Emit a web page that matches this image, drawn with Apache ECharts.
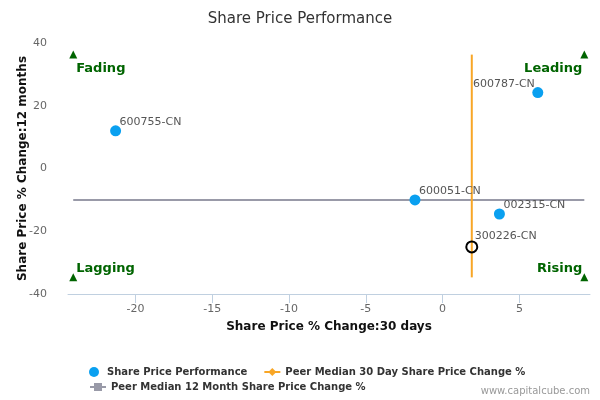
<!DOCTYPE html>
<html>
<head>
<meta charset="utf-8">
<script src="https://cdn.jsdelivr.net/npm/echarts@6/dist/echarts.min.js"></script>
<style>html,body{margin:0;padding:0;background:#fff}#c{width:600px;height:400px}</style>
</head>
<body>
<div id="c"></div>
<script>
// ---- data ----
const companies = ['600755-CN', '600787-CN', '600051-CN', '002315-CN', '300226-CN'];
const change30d = [-21.3, 6.2, -1.8, 3.7, 1.9];
const change12m = [12.0, 24.2, -10.0, -14.5, -25.0];
const peerMedian30d = 1.9;
const peerMedian12m = -10.0;
const quadrantNames = ['Fading', 'Leading', 'Lagging', 'Rising'];
const quadrantX = [-24.06, 9.23, -24.06, 9.23];
const quadrantY = [36.3, 36.3, -34.7, -34.7];
const xTicks = [-20, -15, -10, -5, 0, 5];
const yTicks = [-40, -20, 0, 20, 40];
const xRange = [-24.4, 9.6];
const yRange = [-40, 40];

const FONT = 'DejaVu Sans';
const highlight = '300226-CN';

const pointData = companies.map((n, i) => {
  const item = { name: n, value: [change30d[i], change12m[i]] };
  if (n === highlight) {
    item.itemStyle = { color: 'rgba(0,0,0,0)', borderColor: '#000', borderWidth: 2, opacity: 1 };
    item.label = { position: [9.5, -4] };
  }
  if (n === '600787-CN') {
    item.label = { position: [2.5, -3], align: 'right' };
  }
  return item;
});

const quadLabelPos = [
  { position: [7, 18], align: 'left' },
  { position: [2, 18], align: 'right' },
  { position: [7, -5], align: 'left' },
  { position: [2, -5], align: 'right' }
];
const quadData = quadrantNames.map((n, i) => ({
  name: n, value: [quadrantX[i], quadrantY[i]],
  label: quadLabelPos[i]
}));

const chart = echarts.init(document.getElementById('c'), null, { renderer: 'canvas' });
chart.setOption({
  animation: false,
  textStyle: { fontFamily: FONT },
  title: {
    text: 'Share Price Performance', left: 'center', top: 7,
    textStyle: { fontFamily: FONT, fontSize: 15, fontWeight: 'normal', color: '#333' }
  },
  grid: { left: 68, right: 10, top: 43, bottom: 106 },
  xAxis: {
    type: 'value', min: xRange[0], max: xRange[1],
    name: 'Share Price % Change:30 days', nameLocation: 'middle', nameGap: 27,
    nameMoveOverlap: false,
    nameTextStyle: { fontFamily: FONT, fontSize: 12, fontWeight: 'bold', color: '#111' },
    axisLine: { show: true, onZero: false, lineStyle: { color: '#c0d0e0', width: 1 } },
    axisTick: { show: true, length: 9, lineStyle: { color: '#c0d0e0' }, customValues: xTicks },
    axisLabel: { fontSize: 11, color: '#666', margin: 10, customValues: xTicks },
    splitLine: { show: false }
  },
  yAxis: {
    type: 'value', min: yRange[0], max: yRange[1], interval: 20,
    name: 'Share Price % Change:12 months', nameLocation: 'middle', nameGap: 39,
    nameMoveOverlap: false,
    nameTextStyle: { fontFamily: FONT, fontSize: 12, fontWeight: 'bold', color: '#111' },
    axisLine: { show: false }, axisTick: { show: false },
    axisLabel: { fontSize: 11, color: '#666', margin: 21, customValues: yTicks },
    splitLine: { show: false }
  },
  legend: [
    {
      data: ['Share Price Performance', 'Peer Median 30 Day Share Price Change %'],
      left: 84, top: 362, itemWidth: 16, itemHeight: 10, itemGap: 16,
      textStyle: { fontFamily: FONT, fontSize: 10, fontWeight: 'bold', color: '#333' }
    },
    {
      data: ['Peer Median 12 Month Share Price Change %'],
      left: 84, top: 377, itemWidth: 16, itemHeight: 10,
      textStyle: { fontFamily: FONT, fontSize: 10, fontWeight: 'bold', color: '#333' }
    }
  ],
  graphic: [{
    type: 'text', right: 10, top: 386,
    style: { text: 'www.capitalcube.com', fontFamily: FONT, fontSize: 10, fill: '#999' }
  }],
  series: [
    {
      name: 'Peer Median 12 Month Share Price Change %', type: 'line',
      data: [[quadrantX[0], peerMedian12m], [quadrantX[1], peerMedian12m]],
      symbol: 'rect', symbolSize: 8, showSymbol: false,
      itemStyle: { color: '#999aa8' },
      lineStyle: { color: '#999aa8', width: 2 }, z: 2
    },
    {
      name: 'Peer Median 30 Day Share Price Change %', type: 'line',
      data: [[peerMedian30d, quadrantY[2]], [peerMedian30d, quadrantY[0]]],
      symbol: 'diamond', symbolSize: 9, showSymbol: false,
      itemStyle: { color: '#f8a626' },
      lineStyle: { color: '#f8a626', width: 2 }, z: 3
    },
    {
      name: 'Share Price Performance', type: 'scatter',
      data: pointData, symbol: 'circle', symbolSize: 11,
      itemStyle: { color: '#0aa0f0', opacity: 1 },
      label: {
        show: true, formatter: '{b}', position: [9.5, -3], align: 'left', verticalAlign: 'middle',
        fontFamily: FONT, fontSize: 11, color: '#555'
      },
      z: 5
    },
    {
      name: 'quadrants', type: 'scatter', data: quadData,
      symbol: 'triangle', symbolSize: 8, itemStyle: { color: '#006400', opacity: 1 },
      label: {
        show: true, formatter: '{b}', verticalAlign: 'middle',
        fontFamily: FONT, fontSize: 13, fontWeight: 'bold', color: '#006400'
      },
      z: 4, silent: true
    }
  ]
});
</script>
</body>
</html>
